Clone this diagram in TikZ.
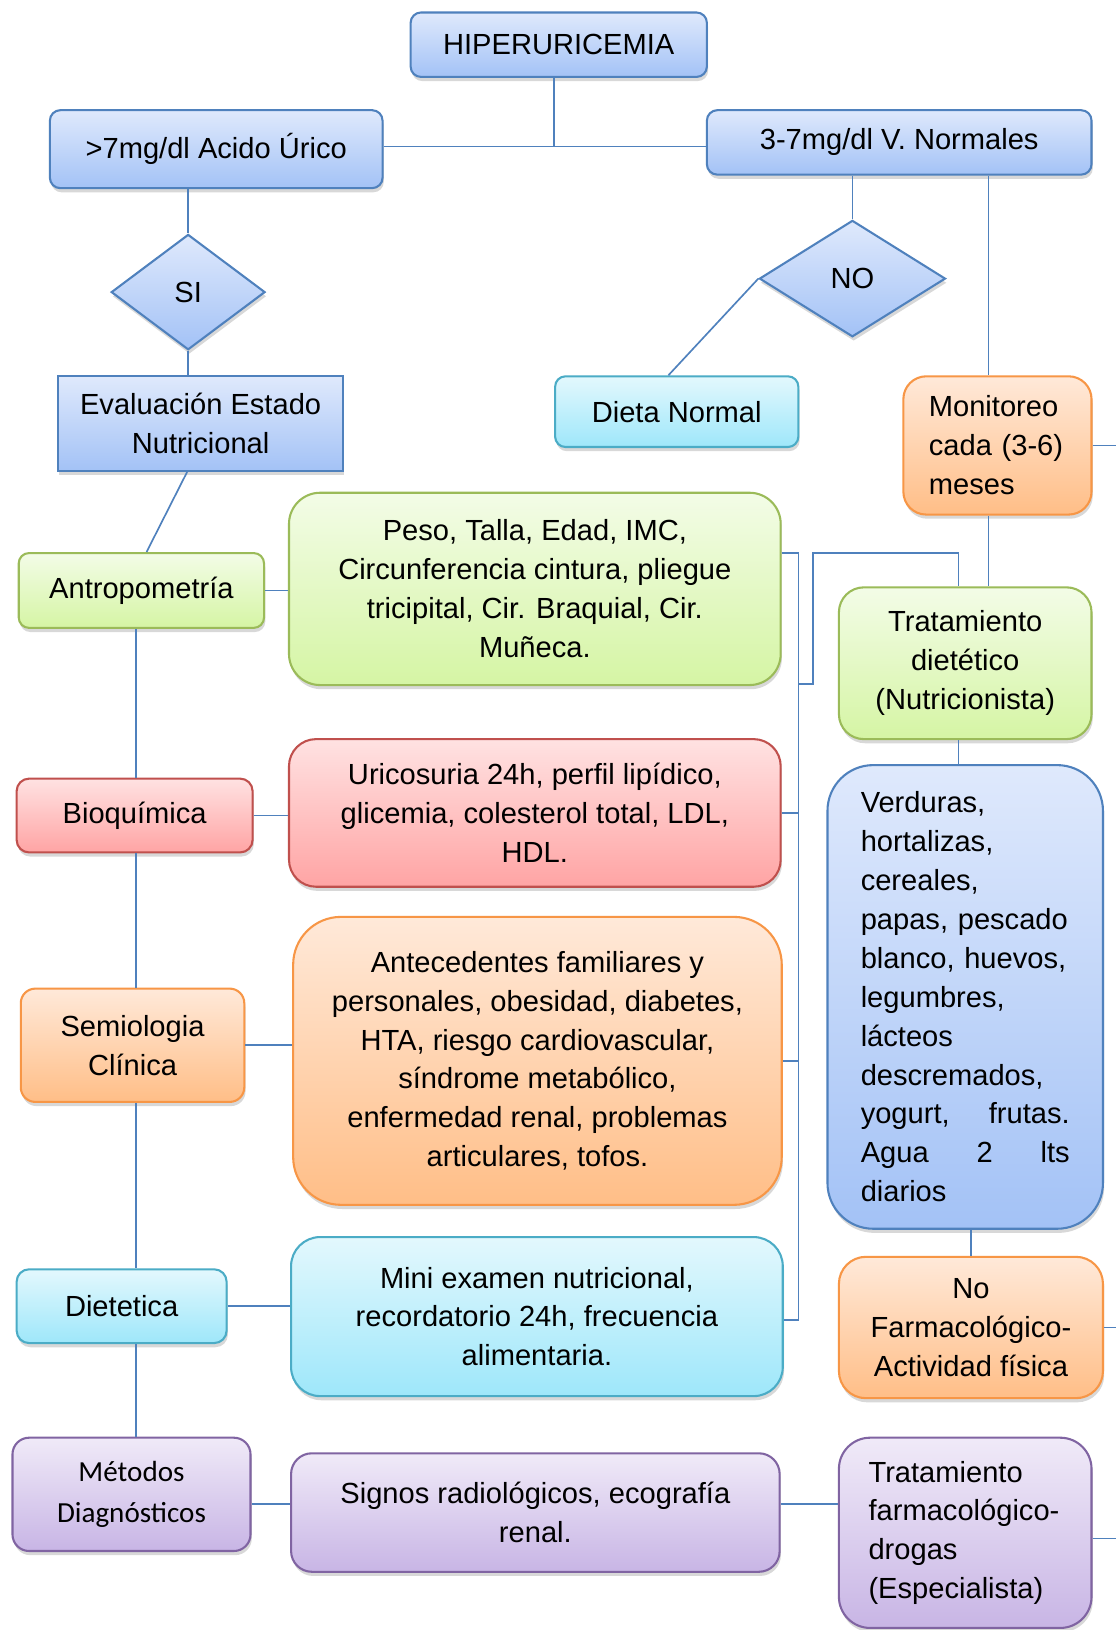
\documentclass[tikz,border=0pt]{standalone}
\usepackage{fontspec}
\setmainfont{Liberation Sans}
\newfontfamily\calibrifont{Carlito}
\usepackage{tikz}
\usetikzlibrary{shapes,positioning,shadows}
\definecolor{dfline}{RGB}{79,129,189}
\definecolor{dfblueb}{RGB}{79,129,189}
\definecolor{dfbluetop}{RGB}{223,233,252}
\definecolor{dfbluebot}{RGB}{163,194,246}
\definecolor{dfgreenb}{RGB}{155,187,89}
\definecolor{dfgreentop}{RGB}{243,252,231}
\definecolor{dfgreenbot}{RGB}{213,245,164}
\definecolor{dfredb}{RGB}{192,80,77}
\definecolor{dfredtop}{RGB}{255,226,226}
\definecolor{dfredbot}{RGB}{255,164,164}
\definecolor{dforangeb}{RGB}{247,150,70}
\definecolor{dforangetop}{RGB}{255,233,217}
\definecolor{dforangebot}{RGB}{255,190,135}
\definecolor{dfcyanb}{RGB}{75,172,198}
\definecolor{dfcyantop}{RGB}{227,248,253}
\definecolor{dfcyanbot}{RGB}{158,231,250}
\definecolor{dfpurpleb}{RGB}{128,100,162}
\definecolor{dfpurpletop}{RGB}{240,234,248}
\definecolor{dfpurplebot}{RGB}{200,181,229}
\tikzstyle{link} = [line width=0.8pt, color=dfline]
\tikzstyle{card} = [rectangle, rounded corners=5pt, line width=1pt, align=center, inner sep=0pt, font=\fontsize{14pt}{18.7pt}\selectfont, drop shadow={shadow xshift=0.6pt, shadow yshift=-2pt, opacity=0.3}]
\tikzstyle{bluecard} = [card, draw=dfblueb, top color=dfbluetop, bottom color=dfbluebot]
\tikzstyle{greencard} = [card, draw=dfgreenb, top color=dfgreentop, bottom color=dfgreenbot]
\tikzstyle{redcard} = [card, draw=dfredb, top color=dfredtop, bottom color=dfredbot]
\tikzstyle{orangecard} = [card, draw=dforangeb, top color=dforangetop, bottom color=dforangebot]
\tikzstyle{cyancard} = [card, draw=dfcyanb, top color=dfcyantop, bottom color=dfcyanbot]
\tikzstyle{purplecard} = [card, draw=dfpurpleb, top color=dfpurpletop, bottom color=dfpurplebot]
\tikzstyle{decision} = [diamond, draw=dfblueb, line width=1pt, top color=dfbluetop, bottom color=dfbluebot, inner sep=0pt, font=\fontsize{14pt}{18.7pt}\selectfont, drop shadow={shadow xshift=0.6pt, shadow yshift=-2pt, opacity=0.3}]

\begin{document}
\begin{tikzpicture}[x=0.5pt, y=-0.5pt]
\fill[white] (0,0) rectangle (1074,1568);
\useasboundingbox (0,0) rectangle (1074,1568);

% Top level
\node[bluecard, minimum width=142.5pt, minimum height=31pt] (hiper) at (537.5,43) {HIPERURICEMIA};
\node[bluecard, minimum width=160pt, minimum height=37.5pt] (acido) at (208,143.5) {\raisebox{2pt}{>7mg/dl Acido Úrico}};
\node[bluecard, minimum width=185pt, minimum height=31pt] (normal) at (865,137) {3-7mg/dl V. Normales};

% Decisions
\node[decision, minimum width=74pt, minimum height=55.5pt] (si) at (181,281) {SI};
\node[decision, minimum width=89.5pt, minimum height=56pt] (no) at (820,268) {NO};

\node[bluecard, sharp corners, minimum width=137pt, minimum height=45.5pt] (eval) at (193,407.5) {Evaluación Estado\\Nutricional};
\node[cyancard, minimum width=117pt, minimum height=34pt] (dieta) at (651,396) {Dieta Normal};
\node[orangecard, rounded corners=11pt, minimum width=90.5pt, minimum height=66.5pt, text width=66pt, inner xsep=12.25pt, align=left] (monit) at (959.5,428.5) {Monitoreo\\\mbox{cada (3-6)}\\meses};

% Left column
\node[greencard, minimum width=118pt, minimum height=36pt] (antro) at (136,568) {Antropometría};
\node[redcard, rounded corners=6pt, minimum width=113.5pt, minimum height=35.5pt] (bioq) at (129.5,784.5) {Bioquímica};
\node[orangecard, rounded corners=7pt, minimum width=107.5pt, minimum height=54.5pt] (semio) at (127.5,1005.5) {Semiologia\\Clínica};
\node[cyancard, rounded corners=6pt, minimum width=101pt, minimum height=35.5pt] (dietet) at (117,1256.5) {Dietetica};
\node[purplecard, rounded corners=8pt, minimum width=114.5pt, minimum height=54.5pt, font=\calibrifont\fontsize{14pt}{20pt}\selectfont] (metod) at (126.5,1437.5) {Métodos\\Diagnósticos};

% Middle column
\node[greencard, rounded corners=15pt, minimum width=236.5pt, minimum height=92.5pt] (peso) at (514.5,566.5) {Peso, Talla, Edad, IMC,\\Circunferencia cintura, pliegue\\tricipital, Cir. Braquial, Cir.\\Muñeca.};
\node[redcard, rounded corners=13pt, minimum width=236.5pt, minimum height=71pt] (uric) at (514.5,782) {Uricosuria 24h, perfil lipídico,\\glicemia, colesterol total, LDL,\\HDL.};
\node[orangecard, rounded corners=23pt, minimum width=235pt, minimum height=138.5pt] (antec) at (517,1020.5) {Antecedentes familiares y\\personales, obesidad, diabetes,\\HTA, riesgo cardiovascular,\\síndrome metabólico,\\enfermedad renal, problemas\\articulares, tofos.};
\node[cyancard, rounded corners=14pt, minimum width=236.5pt, minimum height=76.5pt] (mini) at (516.5,1266.5) {Mini examen nutricional,\\recordatorio 24h, frecuencia\\alimentaria.};
\node[purplecard, rounded corners=10pt, minimum width=235pt, minimum height=57pt] (signos) at (515,1455) {Signos radiológicos, ecografía\\renal.};

% Right column
\node[greencard, rounded corners=12pt, minimum width=121.5pt, minimum height=73pt] (tdiet) at (928.5,638) {Tratamiento\\dietético\\(Nutricionista)};
\node[bluecard, rounded corners=22pt, minimum width=132.5pt, minimum height=223pt, text width=100.5pt, inner xsep=16pt, align=left] (verd) at (928.5,959) {Verduras,\\hortalizas,\\cereales,\\papas, pescado\\blanco, huevos,\\legumbres,\\lácteos\\descremados,\\yogurt,\hfill frutas.\\Agua\hfill 2\hfill lts\\diarios};
\node[orangecard, rounded corners=13pt, minimum width=127pt, minimum height=68pt] (nofarm) at (934,1277) {No\\Farmacológico-\\Actividad física};
\node[purplecard, rounded corners=15pt, minimum width=121.5pt, minimum height=91.5pt, text width=93pt, inner xsep=14.25pt, align=left] (tfarm) at (928.5,1474.5) {Tratamiento\\farmacológico-\\drogas\\(Especialista)};

% Helper points
\coordinate (j1) at (533,141);
\coordinate (spine) at (131,0);
\coordinate (rcol) at (951,0);
\coordinate (edge) at (1074,0);
\coordinate (bra) at (768,532);
\coordinate (brb) at (768,1270);
\coordinate (brc) at (782,658);
\coordinate (tin) at (922,0);

% Connectors
\draw[link] (j1 |- hiper.south) -- (j1);
\draw[link] (acido.east |- j1) -- (normal.west |- j1);
\draw[link] (si.north |- acido.south) -- (si.north);
\draw[link] (si.south) -- (si.south |- eval.north);
\draw[link] ([xshift=-6.5pt]eval.south) -- ([xshift=2.5pt]antro.north);
\draw[link] (spine |- antro.south) -- (spine |- bioq.north);
\draw[link] (spine |- bioq.south) -- (spine |- semio.north);
\draw[link] (spine |- semio.south) -- (spine |- dietet.north);
\draw[link] (spine |- dietet.south) -- (spine |- metod.north);
\draw[link] (antro.east) -- (antro.east -| peso.west);
\draw[link] (bioq.east) -- (bioq.east -| uric.west);
\draw[link] (semio.east) -- (semio.east -| antec.west);
\draw[link] (dietet.east) -- (dietet.east -| mini.west);
\draw[link] ([yshift=-4.75pt]metod.east) -- ([yshift=-4.75pt]metod.east -| signos.west);

\draw[link] (no.north |- normal.south) -- (no.north);
\draw[link] (no.west) -- ([xshift=-4pt]dieta.north);
\draw[link] (rcol |- normal.south) -- (rcol |- monit.north);
\draw[link] (monit.east) -- (monit.east -| edge);
\draw[link] (rcol |- monit.south) -- (rcol |- tdiet.north);

% Bracket to the diet treatment
\draw[link] (peso.east |- bra) -- (bra) -- (brb) -- (brb -| mini.east);
\draw[link] (uric.east) -- (uric.east -| bra);
\draw[link] (antec.east) -- (antec.east -| bra);
\draw[link] (brc -| bra) -- (brc) -- (brc |- bra) -- (tin |- bra) -- (tin |- tdiet.north);

\draw[link] (tin |- tdiet.south) -- (tin |- verd.north);
\draw[link] (nofarm.north |- verd.south) -- (nofarm.north);
\draw[link] (nofarm.east) -- (nofarm.east -| edge);
\draw[link] ([yshift=4pt]signos.east) -- ([yshift=4pt]signos.east -| tfarm.west);
\draw[link] ([yshift=-2.75pt]tfarm.east) -- ([yshift=-2.75pt]tfarm.east -| edge);
\end{tikzpicture}
\end{document}
